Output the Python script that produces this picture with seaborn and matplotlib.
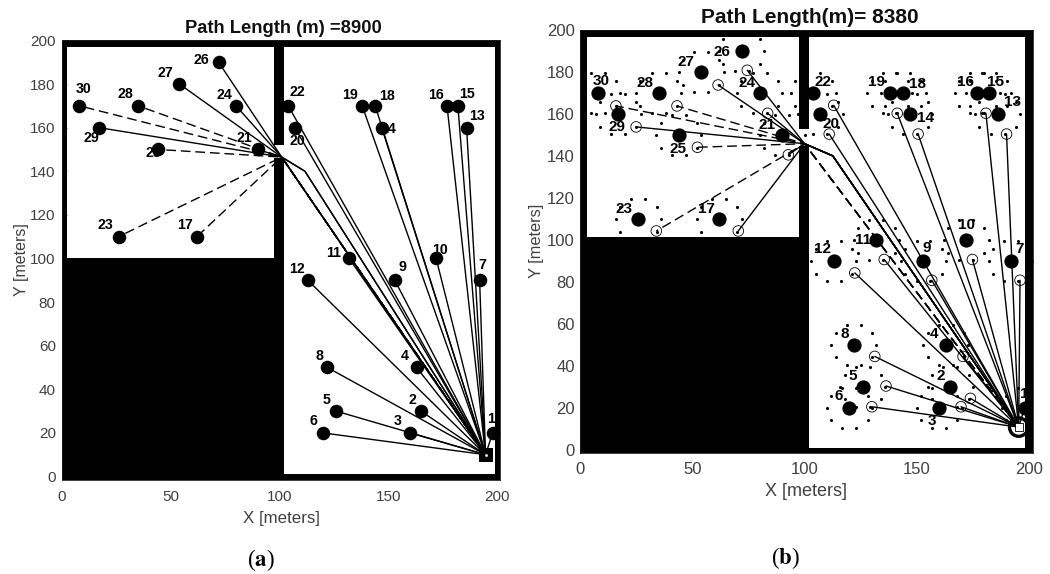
import numpy as np
import pandas as pd
import matplotlib
matplotlib.use("Agg")
import matplotlib.pyplot as plt
from matplotlib.patches import Rectangle
import seaborn as sns

sns.set_style("white")
plt.rcParams["font.family"] = ["Liberation Sans", "DejaVu Sans"]
plt.rcParams["mathtext.fontset"] = "stix"

# ---- data ----
target_ids = list(range(1, 31))
target_x = [198, 165, 160, 163, 126, 120, 192, 122, 153, 172, 132, 113, 186, 147, 182,
            177, 62, 144, 138, 107, 90, 104, 26, 80, 44, 72, 54, 35, 17, 8]
target_y = [20, 30, 20, 50, 30, 20, 90, 50, 90, 100, 100, 90, 160, 160, 170,
            170, 110, 170, 170, 160, 150, 170, 110, 170, 150, 190, 180, 170, 160, 170]

label_a_x = [197.2, 160.9, 154.5, 157.7, 121.4, 115.4, 193.1, 118.2, 156.3, 173.8, 125.1, 108, 190.8, 149.9, 186.2,
             172, 56.6, 149.4, 132.4, 108, 83.7, 108, 19.8, 74.5, 41.8, 63.9, 47.4, 29, 13.3, 10.1]
label_a_y = [26.4, 35.1, 25.5, 55.3, 35.1, 25.5, 97, 55.3, 96.1, 103.9, 102.5, 95.2, 165.4, 159.4, 175.5,
             175, 115.4, 174.5, 175, 153.9, 155.3, 176.4, 115.4, 175, 148.4, 191, 185.1, 175.5, 155.3, 177.8]
label_b_x = [197.8, 160.8, 156.6, 157.7, 121.3, 115.2, 195.9, 118, 154.4, 172, 125.9, 107.9, 192.7, 153.7, 185.2,
             171.8, 56.4, 150.2, 132.1, 111.8, 83.4, 108.1, 19.7, 74.5, 43.5, 63.4, 47.2, 29, 16.6, 9.4]
label_b_y = [26.5, 35.4, 13.7, 55.5, 35.4, 25.5, 95.6, 55.5, 96.5, 107.2, 100, 95.6, 166, 158.4, 175.6,
             175.3, 115.1, 174.3, 175.3, 155.4, 154.9, 175.3, 115.1, 175.1, 143.3, 189.9, 185.1, 175, 154, 175.9]

# routes in panel (a)
a_direct_ids = [1, 2, 3, 4, 5, 6, 7, 8, 9, 10, 11, 12, 13, 14, 15, 16, 18, 19, 20, 22]
a_door_solid_ids = [27, 29, 21]
a_bend_solid_ids = [26, 24]
a_door_dashed_ids = [30, 28, 25, 23, 17]
base_a = (194.7, 10)
door_a = (101, 146.5)
bend_a = (111.7, 140)

# waypoints (open circles) in panel (b)
way_direct_x = [113, 111, 141.3, 150.6, 180.8, 190, 135.5, 122.4, 156.7, 174.8, 196, 170.6, 131.3, 136.3, 173.9, 169.7, 130]
way_direct_y = [164.3, 150.6, 160.5, 150.6, 160.5, 150.6, 90.8, 84.4, 80.9, 90.8, 80.9, 44.6, 44.6, 30.5, 24.6, 20.6, 20.6]
way_solid_x = [74.5, 61.5, 83.6, 25, 92.8, 70.5]
way_solid_y = [181, 174, 160.5, 154, 140.7, 104.4]
way_dashed_x = [43.2, 16, 52.3, 34]
way_dashed_y = [164, 164, 144.3, 104.4]
base_b = (195.4, 10.9)
door_b = (100, 146)
bend_b = (112.6, 140.2)

# sensing dots seen around each target, offsets
ring_dx = [10, 8.1, 3.1, -3.1, -8.1, -10, -8.1, -3.1, 3.1, 8.1]
ring_dy = [0, 5.9, 9.5, 9.5, 5.9, 0, -5.9, -9.5, -9.5, -5.9]

ticks_x = [0, 50, 100, 150, 200]
ticks_y = [0, 20, 40, 60, 80, 100, 120, 140, 160, 180, 200]

W, H = 1050, 574
fig = plt.figure(figsize=(W / 100, H / 100), dpi=100, facecolor="white")


def make_axes(l, r, t, b):
    return fig.add_axes([l / W, 1 - b / H, (r - l) / W, (b - t) / H])


def walls(ax, xlim, ylim, lw, tw, rw, bw, block_h, gap_lo, gap_hi):
    x0, x1 = xlim
    y0, y1 = ylim
    rects = [
        (x0, y0, lw, y1 - y0), (x0, y1 - tw, x1 - x0, tw),
        (x1 - rw, y0, rw, y1 - y0), (x0, y0, x1 - x0, bw),
        (x0, y0, 102, block_h - y0),
        (97.5, block_h, 4.5, gap_lo - block_h), (97.5, gap_hi, 4.5, y1 - gap_hi),
    ]
    for (x, y, w, h) in rects:
        ax.add_patch(Rectangle((x, y), w, h, fc="black", ec="none", zorder=1))


def paths(ax, routes, dashed=False, lw=1.0):
    rows = [(i, px, py) for i, r in enumerate(routes) for (px, py) in r]
    df = pd.DataFrame(rows, columns=["path", "x", "y"])
    kw = dict(linestyle=(0, (7, 3.5))) if dashed else {}
    sns.lineplot(data=df, x="x", y="y", units="path", estimator=None, sort=False,
                 color="black", lw=lw, zorder=2, ax=ax, legend=False, **kw)


def style(ax, xlim, ylim, fs, xl_fs, yl_fs, title, title_fs, title_x, title_y, xl_pad, yl_pad, xt_pad, yt_pad, tick_col):
    ax.set_xlim(*xlim)
    ax.set_ylim(*ylim)
    ax.set_xticks(ticks_x)
    ax.set_yticks(ticks_y)
    ax.tick_params(direction="in", top=True, right=True, bottom=True, left=True,
                   length=3.6, width=0.6, color=tick_col, labelsize=fs, labelcolor="#404040")
    ax.tick_params(axis="x", pad=xt_pad)
    ax.tick_params(axis="y", pad=yt_pad)
    for s in ax.spines.values():
        s.set_linewidth(0.6)
        s.set_color("#202020")
    ax.set_xlabel("X [meters]", fontsize=xl_fs, color="#404040", labelpad=xl_pad)
    ax.set_ylabel("Y [meters]", fontsize=yl_fs, color="#404040", labelpad=yl_pad)
    ax.set_title(title, fontsize=title_fs, fontweight="bold", color="#101010", x=title_x, y=title_y)


tx = dict(zip(target_ids, zip(target_x, target_y)))
targets_df = pd.DataFrame({"x": target_x, "y": target_y})

# ---- panel (a) ----
xa, ya = (0, 201.5), (-1.6, 200.2)
axa = make_axes(62, 500.3, 40, 480)
walls(axa, xa, ya, 2.4, 3.0, 2.6, 2.8, 100, 146, 152)
routes = [[base_a, tx[i]] for i in a_direct_ids]
routes += [[base_a, door_a, tx[i]] for i in a_door_solid_ids]
routes += [[base_a, bend_a, door_a, tx[i]] for i in a_bend_solid_ids]
paths(axa, routes)
paths(axa, [[base_a, door_a, tx[i]] for i in a_door_dashed_ids], dashed=True)
sns.scatterplot(data=targets_df, x="x", y="y", s=95, color="black", linewidth=0, zorder=4, ax=axa, legend=False)
sns.scatterplot(x=[base_a[0]], y=[base_a[1]], marker="s", s=115, color="black", linewidth=0, zorder=5, ax=axa, legend=False)
sns.scatterplot(x=[base_a[0]], y=[base_a[1]], marker="o", s=4, color="white", linewidth=0, zorder=6, ax=axa, legend=False)
for i, lx, ly in zip(target_ids, label_a_x, label_a_y):
    axa.text(lx, ly, str(i), fontsize=10.2, fontweight="bold", ha="center", va="center", color="black", zorder=3)
style(axa, xa, ya, 11, 12.2, 11.5, "Path Length (m) =8900", 13.2, 0.505, 0.9966, 5, 1, 7, 4.5, "#555555")

# ---- panel (b) ----
xb, yb = (0, 201.6), (-1.2, 200.2)
axb = make_axes(580, 1032.6, 30, 452.5)
walls(axb, xb, yb, 3.0, 3.2, 3.2, 2.3, 101.5, 145, 153)
dots_x = [x + d for x in target_x for d in ring_dx]
dots_y = [y + d for y in target_y for d in ring_dy]
sns.scatterplot(x=dots_x, y=dots_y, s=5, color="black", linewidth=0, zorder=2, ax=axb, legend=False)
routes = [[base_b, p] for p in zip(way_direct_x, way_direct_y)]
routes += [[base_b, bend_b, door_b, p] for p in zip(way_solid_x, way_solid_y)]
routes += [[base_b, tx[1]]]
paths(axb, routes)
paths(axb, [[base_b, door_b, p] for p in zip(way_dashed_x, way_dashed_y)], dashed=True)
sns.scatterplot(data=targets_df, x="x", y="y", s=105, color="black", linewidth=0, zorder=4, ax=axb, legend=False)
all_wx = way_direct_x + way_solid_x + way_dashed_x
all_wy = way_direct_y + way_solid_y + way_dashed_y
sns.scatterplot(x=all_wx, y=all_wy, s=58, facecolor="none", edgecolor="black", linewidth=0.6, zorder=5, ax=axb, legend=False)
sns.scatterplot(x=[base_b[0]], y=[base_b[1]], s=175, facecolor="none", edgecolor="black", linewidth=2.4, zorder=5, ax=axb, legend=False)
sns.scatterplot(x=[base_b[0]], y=[base_b[1]], s=30, marker="s", facecolor="white", edgecolor="black", linewidth=0.6, zorder=6, ax=axb, legend=False)
for i, lx, ly in zip(target_ids, label_b_x, label_b_y):
    axb.text(lx, ly, str(i), fontsize=11, fontweight="bold", ha="center", va="center", color="black", zorder=3)
style(axb, xb, yb, 12, 13, 11.8, "Path Length(m)= 8380", 15, 0.508, 0.9976, 4, 2, 7, 3.6, "black")

fig.text(261 / W, 1 - 560 / H, r"($\mathbf{a}$)", fontsize=16.5, ha="center", va="center", family="Liberation Serif", color="black")
fig.text(785.7 / W, 1 - 558 / H, r"($\mathbf{b}$)", fontsize=16.5, ha="center", va="center", family="Liberation Serif", color="black")

fig.savefig("out.png", dpi=100)
